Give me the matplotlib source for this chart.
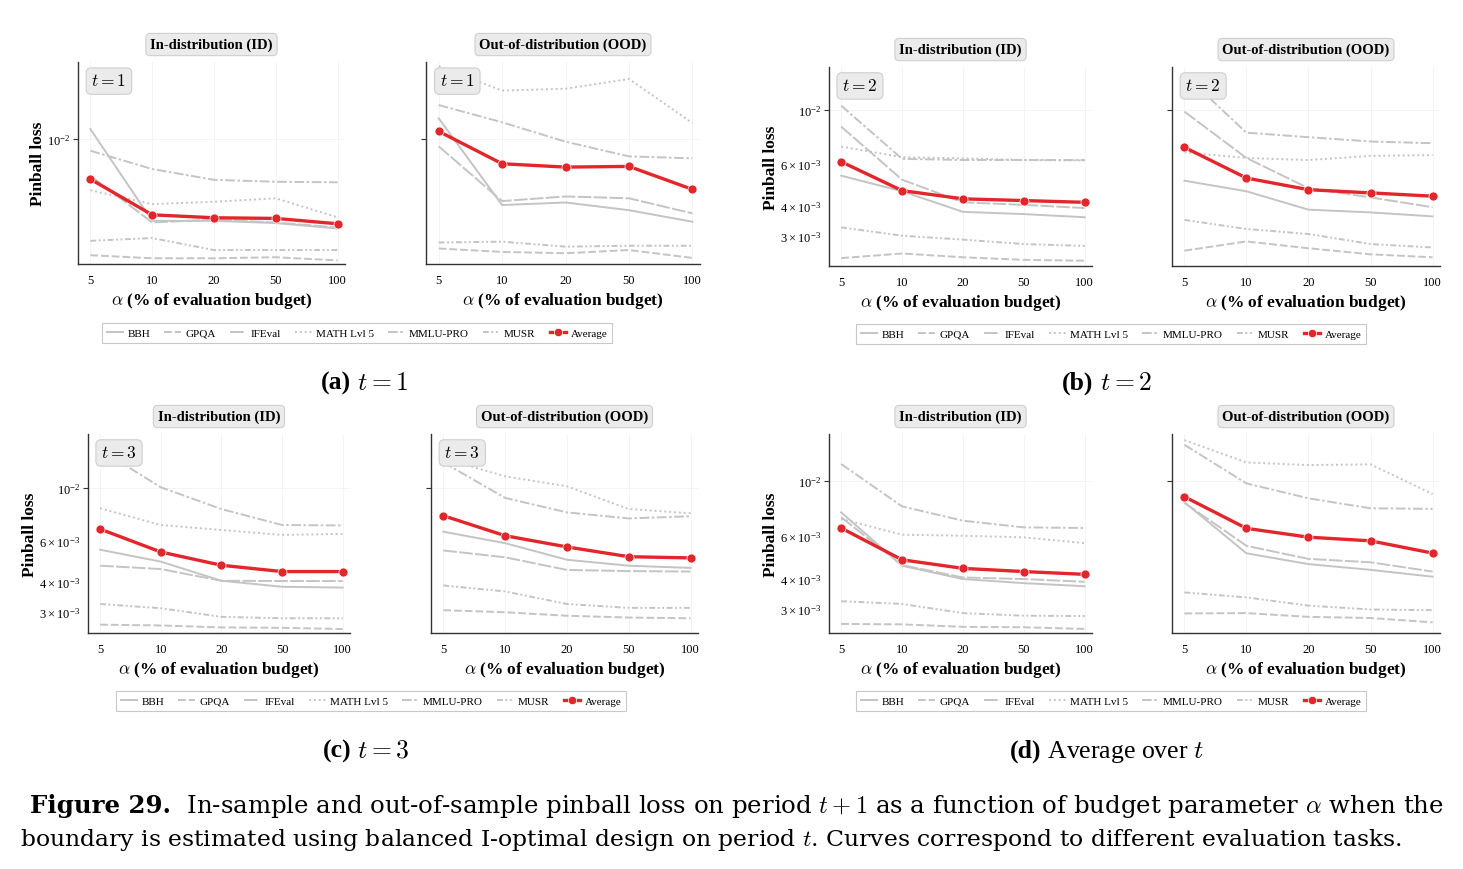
import matplotlib
matplotlib.use("Agg")
import matplotlib.pyplot as plt
from matplotlib.lines import Line2D

plt.rcParams['font.family'] = ['Liberation Serif', 'DejaVu Serif']
plt.rcParams['mathtext.fontset'] = 'cm'

ANCHO, ALTO = 1463, 870

alphas = [5, 10, 20, 50, 100]
tareas = ["BBH", "GPQA", "IFEval", "MATH Lvl 5", "MMLU-PRO", "MUSR"]

# valores (pinball loss)
id_t1 = {
    "BBH":        [0.01125, 0.00381, 0.00381, 0.00371, 0.00348],
    "GPQA":       [0.00254, 0.00245, 0.00245, 0.00248, 0.00239],
    "IFEval":     [0.00649, 0.00374, 0.00386, 0.00374, 0.00352],
    "MATH Lvl 5": [0.00547, 0.00464, 0.00477, 0.00497, 0.00397],
    "MMLU-PRO":   [0.00871, 0.00702, 0.00618, 0.00604, 0.00600],
    "MUSR":       [0.00301, 0.00311, 0.00270, 0.00270, 0.00270],
}
prom_id_t1 = [0.00623, 0.00409, 0.00395, 0.00392, 0.00368]

ood_t1 = {
    "BBH":        [0.01277, 0.00459, 0.00473, 0.00432, 0.00377],
    "GPQA":       [0.00275, 0.00264, 0.00260, 0.00270, 0.00246],
    "IFEval":     [0.00917, 0.00481, 0.00508, 0.00497, 0.00416],
    "MATH Lvl 5": [0.0236, 0.0177, 0.0181, 0.0203, 0.01208],
    "MMLU-PRO":   [0.01493, 0.01218, 0.00969, 0.00815, 0.00796],
    "MUSR":       [0.00295, 0.00298, 0.00281, 0.00284, 0.00284],
}
prom_ood_t1 = [0.01095, 0.00747, 0.00718, 0.00724, 0.00552]

id_t2 = {
    "BBH":        [0.00534, 0.00460, 0.00378, 0.00370, 0.00359],
    "GPQA":       [0.00243, 0.00254, 0.00245, 0.00239, 0.00237],
    "IFEval":     [0.00853, 0.00514, 0.00414, 0.00404, 0.00392],
    "MATH Lvl 5": [0.00705, 0.00637, 0.00630, 0.00620, 0.00617],
    "MMLU-PRO":   [0.01042, 0.00627, 0.00620, 0.00620, 0.00620],
    "MUSR":       [0.00326, 0.00301, 0.00290, 0.00278, 0.00273],
}
prom_id_t2 = [0.00610, 0.00463, 0.00428, 0.00421, 0.00414]

ood_t2 = {
    "BBH":        [0.00509, 0.00460, 0.00386, 0.00376, 0.00362],
    "GPQA":       [0.00261, 0.00285, 0.00267, 0.00252, 0.00245],
    "IFEval":     [0.00984, 0.00632, 0.00474, 0.00434, 0.00395],
    "MATH Lvl 5": [0.00667, 0.00632, 0.00620, 0.00645, 0.00650],
    "MMLU-PRO":   [0.01403, 0.00805, 0.00771, 0.00740, 0.00728],
    "MUSR":       [0.00350, 0.00321, 0.00306, 0.00278, 0.00269],
}
prom_ood_t2 = [0.00700, 0.00522, 0.00467, 0.00453, 0.00439]

id_t3 = {
    "BBH":        [0.00549, 0.00489, 0.00406, 0.00383, 0.00380],
    "GPQA":       [0.00265, 0.00263, 0.00258, 0.00257, 0.00254],
    "IFEval":     [0.00470, 0.00455, 0.00406, 0.00405, 0.00405],
    "MATH Lvl 5": [0.00821, 0.00698, 0.00665, 0.00634, 0.00640],
    "MMLU-PRO":   [0.01452, 0.01007, 0.00815, 0.00698, 0.00695],
    "MUSR":       [0.00324, 0.00311, 0.00286, 0.00282, 0.00282],
}
prom_id_t3 = [0.00671, 0.00537, 0.00472, 0.00444, 0.00444]

ood_t3 = {
    "BBH":        [0.00654, 0.00585, 0.00498, 0.00470, 0.00460],
    "GPQA":       [0.00305, 0.00299, 0.00289, 0.00284, 0.00282],
    "IFEval":     [0.00545, 0.00510, 0.00451, 0.00446, 0.00444],
    "MATH Lvl 5": [0.01333, 0.01120, 0.01017, 0.00815, 0.00782],
    "MMLU-PRO":   [0.01283, 0.00908, 0.00789, 0.00744, 0.00760],
    "MUSR":       [0.00388, 0.00366, 0.00324, 0.00312, 0.00312],
}
prom_ood_t3 = [0.00764, 0.00629, 0.00564, 0.00513, 0.00507]

id_prom = {
    "BBH":        [0.00745, 0.00451, 0.00398, 0.00383, 0.00372],
    "GPQA":       [0.00261, 0.00260, 0.00254, 0.00253, 0.00249],
    "IFEval":     [0.00711, 0.00454, 0.00404, 0.00398, 0.00388],
    "MATH Lvl 5": [0.00700, 0.00604, 0.00598, 0.00589, 0.00558],
    "MMLU-PRO":   [0.01173, 0.00788, 0.00689, 0.00647, 0.00643],
    "MUSR":       [0.00323, 0.00315, 0.00289, 0.00282, 0.00281],
}
prom_id_prom = [0.00643, 0.00477, 0.00440, 0.00427, 0.00416]

ood_prom = {
    "BBH":        [0.00819, 0.00507, 0.00458, 0.00434, 0.00407],
    "GPQA":       [0.00288, 0.00289, 0.00279, 0.00276, 0.00265],
    "IFEval":     [0.00815, 0.00544, 0.00481, 0.00466, 0.00427],
    "MATH Lvl 5": [0.01469, 0.01191, 0.01162, 0.01170, 0.00885],
    "MMLU-PRO":   [0.01406, 0.00978, 0.00850, 0.00774, 0.00770],
    "MUSR":       [0.00351, 0.00335, 0.00310, 0.00299, 0.00297],
}
prom_ood_prom = [0.00863, 0.00641, 0.00590, 0.00570, 0.00508]

GRIS = '#c4c4c4'
ROJO = '#e3262b'
estilos = {
    "BBH": '-',
    "GPQA": (0, (4, 1.5)),
    "IFEval": (0, (7, 1.2)),
    "MATH Lvl 5": (0, (1, 1.5)),
    "MMLU-PRO": (0, (5, 1.3, 1.3, 1.3)),
    "MUSR": (0, (3, 1.3, 1, 1.3, 1, 1.3)),
}

caja = dict(boxstyle='round,pad=0.3', fc='#ebebeb', ec='#cfcfcf', lw=0.8)


def crear_ejes(fig, izq, der, arriba, abajo):
    return fig.add_axes([izq / ANCHO, 1 - abajo / ALTO, (der - izq) / ANCHO, (abajo - arriba) / ALTO])


def dibujar_panel(ax, datos, promedio, ylim, etiqueta_t, titulo, mostrar_y):
    x = list(range(len(alphas)))
    for tarea in tareas:
        ax.plot(x, datos[tarea], color=GRIS, lw=1.4, linestyle=estilos[tarea])
    ax.plot(x, promedio, color=ROJO, lw=2.4, marker='o', ms=6.5, mec='white', mew=0.5, zorder=5)
    ax.set_yscale('log')
    ax.set_ylim(ylim)
    ax.set_xlim(-0.2, 4.12)
    ax.set_xticks(x)
    ax.set_xticklabels([str(a) for a in alphas])
    for lado in ['top', 'right']:
        ax.spines[lado].set_visible(False)
    for lado in ['left', 'bottom']:
        ax.spines[lado].set_color('#333333')
        ax.spines[lado].set_linewidth(1.0)
    ax.grid(True, which='major', color='#f3f3f3', lw=0.6)
    ax.set_axisbelow(True)
    ax.tick_params(axis='x', length=0, pad=7, labelsize=9)
    ax.tick_params(axis='y', which='major', length=3.5, width=0.8, pad=2, labelsize=9, color='#333333')
    ax.tick_params(axis='y', which='minor', length=0, pad=5.5, labelsize=9)
    if mostrar_y:
        ax.set_ylabel("Pinball loss", fontweight='bold', fontsize=12.5, labelpad=1)
    else:
        ax.tick_params(axis='y', which='both', labelleft=False)
    ax.set_xlabel(r"$\alpha$ (% of evaluation budget)", fontweight='bold', fontsize=12.5, labelpad=3)
    ax.set_title(titulo, fontweight='bold', fontsize=10.5, pad=10, bbox=caja)
    if etiqueta_t:
        ax.text(0.05, 0.945, etiqueta_t, transform=ax.transAxes, fontsize=12.5, va='top', ha='left',
                bbox=caja, zorder=10)


def escribir_partes(fig, x_px, y_px, partes, tam, centrar=False, ancho_objetivo=None):
    r = fig.canvas.get_renderer()
    objetos = []
    x = x_px
    for texto, kw in partes:
        t = fig.text(x / ANCHO, 1 - y_px / ALTO, texto, va='baseline', ha='left', fontsize=tam, **kw)
        x += t.get_window_extent(r).width
        objetos.append(t)
    if ancho_objetivo is not None:
        nuevo = tam * ancho_objetivo / (x - x_px)
        for t in objetos:
            t.remove()
        return escribir_partes(fig, x_px, y_px, partes, nuevo, centrar)
    if centrar:
        corr = (x - x_px) / 2
        for t in objetos:
            px, py = t.get_position()
            t.set_position((px - corr / ANCHO, py))
    return tam


fig = plt.figure(figsize=(ANCHO / 100, ALTO / 100), dpi=100)

paneles = [
    ((78, 345, 63, 265), (426, 700, 63, 265), id_t1, prom_id_t1, ood_t1, prom_ood_t1, (0.00229, 0.0248), r"$t=1$"),
    ((829, 1092, 68, 267), (1172, 1440, 68, 267), id_t2, prom_id_t2, ood_t2, prom_ood_t2, (0.002254, 0.01507), r"$t=2$"),
    ((88, 350, 435, 634), (431, 698, 435, 634), id_t3, prom_id_t3, ood_t3, prom_ood_t3, (0.002444, 0.0169), r"$t=3$"),
    ((829, 1092, 435, 634), (1172, 1440, 435, 634), id_prom, prom_id_prom, ood_prom, prom_ood_prom, (0.002397, 0.01556), None),
]

for pos_id, pos_ood, d_id, p_id, d_ood, p_ood, ylim, etq in paneles:
    ax1 = crear_ejes(fig, *pos_id)
    ax2 = crear_ejes(fig, *pos_ood)
    dibujar_panel(ax1, d_id, p_id, ylim, etq, "In-distribution (ID)", True)
    dibujar_panel(ax2, d_ood, p_ood, ylim, etq, "Out-of-distribution (OOD)", False)

# leyendas
manijas = [Line2D([], [], color=GRIS, lw=1.4, linestyle=estilos[t]) for t in tareas]
manijas.append(Line2D([], [], color=ROJO, lw=2.4, marker='o', ms=6, mec='white', mew=0.5))
nombres = tareas + ["Average"]
for cx, cy in [(357, 334), (1111, 335), (371, 702), (1111, 702)]:
    leg = fig.legend(manijas, nombres, loc='center', bbox_to_anchor=(cx / ANCHO, 1 - cy / ALTO),
                     ncol=7, fontsize=8, frameon=True, fancybox=False, edgecolor='#bbbbbb',
                     handlelength=1.5, columnspacing=1.25, handletextpad=0.4, borderpad=0.45)
    leg.get_frame().set_linewidth(0.8)

# subtitulos
for cx, cy, letra, resto in [(365, 390, "(a)", r" $t=1$"), (1107, 390, "(b)", r" $t=2$"),
                             (366, 758, "(c)", r" $t=3$"), (1107, 758, "(d)", r" Average over $t$")]:
    escribir_partes(fig, cx, cy, [(letra, dict(fontweight='bold')), (resto, dict())], 18.5, centrar=True)

# pie de figura
escribir_partes(fig, 30, 813,
                [("Figure 29.", dict(fontweight='bold', family='DejaVu Serif')),
                 (r"  In-sample and out-of-sample pinball loss on period $t+1$ as a function of budget parameter $\alpha$ when the",
                  dict(family='DejaVu Serif'))], 17, ancho_objetivo=1415)
escribir_partes(fig, 20, 846,
                [(r"boundary is estimated using balanced I-optimal design on period $t$. Curves correspond to different evaluation tasks.",
                  dict(family='DejaVu Serif'))], 17, ancho_objetivo=1380)

fig.savefig("out.png", dpi=100)
